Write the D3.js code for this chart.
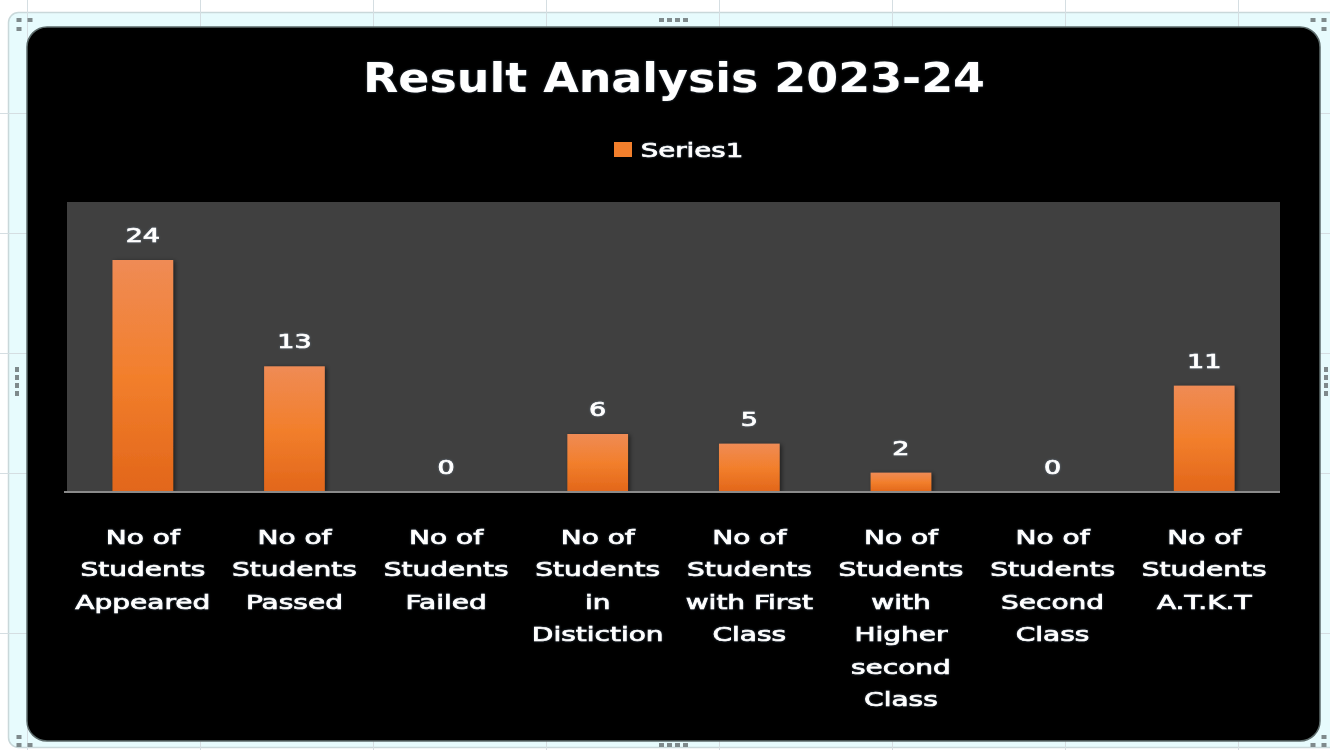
<!DOCTYPE html>
<html>
<head>
<meta charset="utf-8">
<script src="https://cdn.jsdelivr.net/npm/d3@7"></script>
<style>
  html, body { margin: 0; padding: 0; background: #ffffff; }
  svg { display: block; }
</style>
</head>
<body>
<script>
// ---- data ----
const title = "Result Analysis 2023-24";
const seriesName = "Series1";
const categories = [
  "No of Students Appeared",
  "No of Students Passed",
  "No of Students Failed",
  "No of Students in Distiction",
  "No of Students with First Class",
  "No of Students with Higher second Class",
  "No of Students Second Class",
  "No of Students A.T.K.T"
];
const categoryLines = [
  ["No of", "Students", "Appeared"],
  ["No of", "Students", "Passed"],
  ["No of", "Students", "Failed"],
  ["No of", "Students", "in", "Distiction"],
  ["No of", "Students", "with First", "Class"],
  ["No of", "Students", "with", "Higher", "second", "Class"],
  ["No of", "Students", "Second", "Class"],
  ["No of", "Students", "A.T.K.T"]
];
const values = [24, 13, 0, 6, 5, 2, 0, 11];
const yDomain = [0, 30];

// ---- layout ----
const W = 1330, H = 750;
const plot = { x0: 67, x1: 1280, y0: 202, y1: 492 };

const svg = d3.select("body").append("svg").attr("width", W).attr("height", H);
const defs = svg.append("defs");

const grad = defs.append("linearGradient").attr("id", "barGrad")
  .attr("x1", 0).attr("y1", 0).attr("x2", 0).attr("y2", 1);
grad.append("stop").attr("offset", "0%").attr("stop-color", "#ef8b55");
grad.append("stop").attr("offset", "50%").attr("stop-color", "#f27f2c");
grad.append("stop").attr("offset", "100%").attr("stop-color", "#e2661a");

const shadow = defs.append("filter").attr("id", "shadow")
  .attr("x", "-20%").attr("y", "-20%").attr("width", "150%").attr("height", "150%");
shadow.append("feDropShadow").attr("dx", 2).attr("dy", 1).attr("stdDeviation", 2)
  .attr("flood-color", "#000").attr("flood-opacity", 0.5);

const glow = defs.append("filter").attr("id", "glow")
  .attr("x", "-10%").attr("y", "-30%").attr("width", "120%").attr("height", "160%");
glow.append("feGaussianBlur").attr("in", "SourceAlpha").attr("stdDeviation", 0.8).attr("result", "b");
glow.append("feFlood").attr("flood-color", "#9fd0ff").attr("flood-opacity", 0.35);
glow.append("feComposite").attr("in2", "b").attr("operator", "in").attr("result", "g");
const gm = glow.append("feMerge");
gm.append("feMergeNode").attr("in", "g");
gm.append("feMergeNode").attr("in", "SourceGraphic");

// ---- spreadsheet background ----
svg.append("rect").attr("x", 0).attr("y", 0).attr("width", W).attr("height", H).attr("fill", "#ffffff");
// selection frame band
svg.append("rect").attr("x", 8.5).attr("y", 12.5).attr("width", 1330).attr("height", 735)
  .attr("rx", 10).attr("fill", "#e7fbfd").attr("stroke", "#c9d8da").attr("stroke-width", 1.5);

const gridXs = [27, 200, 373, 546, 719, 892, 1065, 1238];
const gridYs = [113, 233, 353, 473, 633];
svg.append("g").selectAll("line.v").data(gridXs).join("line")
  .attr("x1", d => d + 0.5).attr("x2", d => d + 0.5).attr("y1", 0).attr("y2", H)
  .attr("stroke", "#d5dee2").attr("stroke-width", 1);
svg.append("g").selectAll("line.h").data(gridYs).join("line")
  .attr("x1", 0).attr("x2", W).attr("y1", d => d + 0.5).attr("y2", d => d + 0.5)
  .attr("stroke", "#d5dee2").attr("stroke-width", 1);

// handle dots
const handles = svg.append("g").attr("fill", "#7f8a8c");
function dotsH(cx, cy) { for (let i = 0; i < 4; i++) handles.append("rect").attr("x", cx - 14 + i * 8).attr("y", cy - 2).attr("width", 5).attr("height", 4); }
function dotsV(cx, cy) { for (let i = 0; i < 4; i++) handles.append("rect").attr("x", cx - 2).attr("y", cy - 14 + i * 8).attr("width", 4).attr("height", 5); }
dotsH(673, 20); dotsH(673, 745); dotsV(17, 381); dotsV(1326, 381);
[[19, 20], [30, 20], [19, 29], [19, 737], [19, 745], [30, 745], [1324, 20], [1324, 29], [1313, 20], [1313, 745], [1324, 745], [1324, 737]]
  .forEach(([x, y]) => handles.append("rect").attr("x", x - 2.5).attr("y", y - 2).attr("width", 5).attr("height", 4));

// ---- chart area ----
svg.append("rect").attr("x", 27).attr("y", 27).attr("width", 1293).attr("height", 714)
  .attr("rx", 20).attr("fill", "#000000").attr("stroke", "#5d6b6b").attr("stroke-width", 1.5);

// ---- text helper ----
function stretchedText(sel, x, y, txt, size, weight, sx, strokeW) {
  const g = sel.append("g").attr("transform", `translate(${x},${y}) scale(${sx},1)`);
  g.append("text").attr("x", 0).attr("y", 0).attr("text-anchor", "middle")
    .attr("font-family", "'DejaVu Sans', sans-serif").attr("font-size", size)
    .attr("font-weight", weight).attr("fill", "#ffffff")
    .attr("stroke", strokeW ? "#ffffff" : "none").attr("stroke-width", strokeW || 0)
    .attr("filter", "url(#glow)").text(txt);
  return g;
}

// ---- title ----
stretchedText(svg, 674, 92, title, 41, "bold", 1.12, 0);

// ---- legend ----
svg.append("rect").attr("x", 614).attr("y", 142).attr("width", 18).attr("height", 15).attr("fill", "#f27f2c");
stretchedText(svg, 692, 157, seriesName, 20, "normal", 1.38, 0.7);

// ---- plot area ----
svg.append("rect").attr("x", plot.x0).attr("y", plot.y0)
  .attr("width", plot.x1 - plot.x0).attr("height", plot.y1 - plot.y0).attr("fill", "#404040");

const x = d3.scaleBand().domain(categories).range([plot.x0, plot.x1])
  .paddingInner(0.6).paddingOuter(0.3);
const y = d3.scaleLinear().domain(yDomain).range([plot.y1, plot.y0]);

// bars
svg.append("g").selectAll("rect").data(values).join("rect")
  .attr("x", (d, i) => x(categories[i]))
  .attr("y", d => y(d))
  .attr("width", x.bandwidth())
  .attr("height", d => y(0) - y(d))
  .attr("fill", "url(#barGrad)")
  .attr("filter", "url(#shadow)");

// axis
const axisG = svg.append("g").attr("transform", `translate(0,${plot.y1})`)
  .call(d3.axisBottom(x).tickSize(0).tickFormat(""));
axisG.select(".domain").attr("stroke", "#8a8a8a").attr("stroke-width", 2)
  .attr("d", `M${plot.x0 - 3},0H${plot.x1}`);

// data labels
const lbl = svg.append("g");
values.forEach((v, i) => {
  stretchedText(lbl, x(categories[i]) + x.bandwidth() / 2, y(v) - 18, String(v), 19, "normal", 1.42, 0.7);
});

// category labels
const cat = svg.append("g");
categoryLines.forEach((lines, i) => {
  const cx = x(categories[i]) + x.bandwidth() / 2;
  lines.forEach((ln, j) => {
    stretchedText(cat, cx, 544 + j * 32.4, ln, 20, "normal", 1.4, 0.7);
  });
});
</script>
</body>
</html>
